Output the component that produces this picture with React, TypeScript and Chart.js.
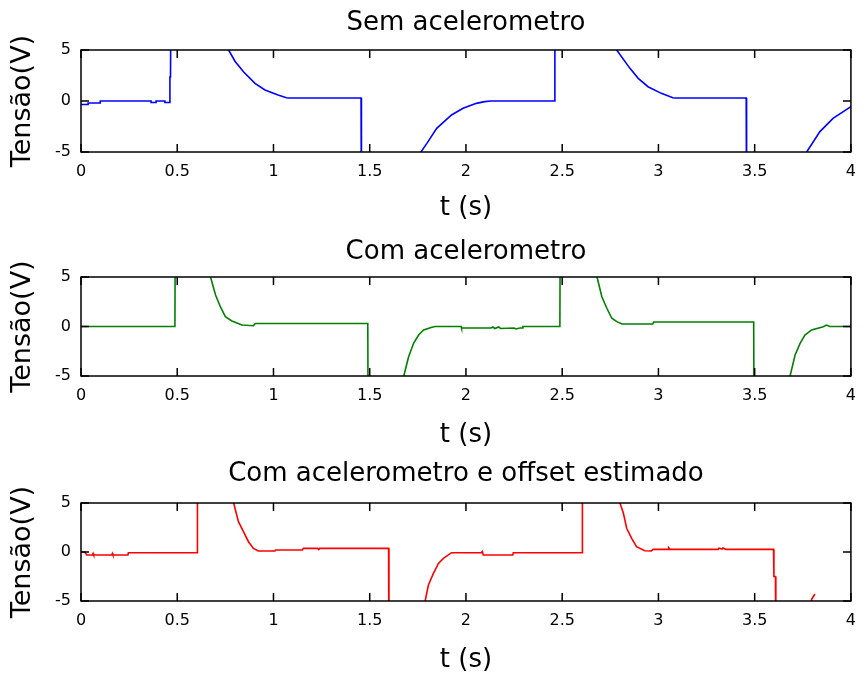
import React, { useEffect, useRef } from 'react';
import { Chart, registerables } from 'chart.js';

Chart.register(...registerables);

const FONT = "'DejaVu Sans', sans-serif";

const xTicks = [0, 0.5, 1, 1.5, 2, 2.5, 3, 3.5, 4];
const xTickLabels = ['0', '0.5', '1', '1.5', '2', '2.5', '3', '3.5', '4'];
const yTicks = [-5, 0, 5];
const yTickLabels = ['-5', '0', '5'];

const panelTitles = ['Sem acelerometro', 'Com acelerometro', 'Com acelerometro e offset estimado'];
const xAxisTitle = 't (s)';
const yAxisTitle = 'Tensão(V)';
const seriesColors = ['#0000ff', '#008000', '#ff0000'];

// Sem acelerometro (blue)
const semT = [0, 0.037, 0.037, 0.1, 0.1, 0.364, 0.364, 0.39, 0.39, 0.436, 0.436, 0.46, 0.462, 0.465, 0.468,
  0.767, 0.8, 0.844, 0.904, 0.956, 1.024, 1.067, 1.08, 1.455, 1.457,
  1.766, 1.797, 1.848, 1.925, 1.985, 2.054, 2.097, 2.13, 2.46, 2.462,
  2.783, 2.852, 2.895, 2.946, 3.015, 3.075, 3.09, 3.456, 3.458,
  3.77, 3.839, 3.907, 4.0];
const semV = [-0.35, -0.35, -0.2, -0.2, 0, 0, -0.15, -0.15, 0, 0, -0.15, -0.15, 2.35, 2.35, 12,
  5, 3.9, 2.87, 1.73, 1.08, 0.59, 0.32, 0.3, 0.3, -12,
  -5, -4.15, -2.68, -1.37, -0.72, -0.23, -0.06, 0, 0, 12,
  5, 3.2, 2.22, 1.4, 0.75, 0.32, 0.3, 0.3, -12,
  -5, -3.0, -1.7, -0.56];

// Com acelerometro (green)
const comT = [0, 0.488, 0.49,
  0.673, 0.699, 0.724, 0.75, 0.784, 0.836, 0.896, 0.905, 1.49, 1.492,
  1.677, 1.702, 1.728, 1.754, 1.78, 1.823, 1.84, 1.975, 1.977, 2.13, 2.14, 2.15, 2.17, 2.18, 2.25, 2.26, 2.28, 2.294, 2.296, 2.488, 2.49,
  2.681, 2.706, 2.732, 2.758, 2.784, 2.81, 2.97, 2.975, 3.495, 3.497,
  3.684, 3.71, 3.736, 3.761, 3.796, 3.856, 3.873, 3.89, 4.0];
const comV = [0, 0, 12,
  5, 3.18, 2.0, 0.99, 0.56, 0.15, 0.08, 0.3, 0.3, -12,
  -5, -3.05, -1.7, -0.86, -0.35, -0.08, 0, 0, -0.15, -0.15, -0.05, -0.2, -0.05, -0.2, -0.15, -0.25, -0.15, -0.15, 0, 0, 12,
  5, 3.0, 1.84, 0.83, 0.49, 0.25, 0.25, 0.45, 0.45, -12,
  -5, -2.88, -1.7, -0.86, -0.35, -0.02, 0.15, 0, 0];

// Com acelerometro e offset estimado (red)
const offT = [0, 0.02, 0.03, 0.06, 0.063, 0.066, 0.16, 0.163, 0.166, 0.244, 0.246, 0.603, 0.605,
  0.793, 0.818, 0.844, 0.87, 0.896, 0.921, 1.007, 1.01, 1.15, 1.155, 1.23, 1.235, 1.24, 1.598, 1.6,
  1.788, 1.805, 1.831, 1.857, 1.883, 1.925, 2.08, 2.085, 2.09, 2.243, 2.246, 2.603, 2.605,
  2.8, 2.818, 2.835, 2.861, 2.886, 2.929, 2.963, 2.972, 3.05, 3.053, 3.06, 3.31, 3.315, 3.33, 3.335, 3.35, 3.598, 3.6, 3.608, 3.61,
  3.79, 3.796, 3.813];
const offV = [0, 0, -0.3, -0.3, -0.15, -0.3, -0.3, -0.15, -0.3, -0.3, -0.07, -0.07, 12,
  5, 3.1, 2.07, 1.05, 0.37, 0.1, 0.1, 0.2, 0.2, 0.37, 0.37, 0.25, 0.37, 0.37, -12,
  -5, -3.37, -2.18, -1.16, -0.65, -0.07, -0.07, 0.05, -0.3, -0.3, -0.07, -0.07, 12,
  5, 3.95, 2.42, 1.4, 0.54, 0.13, 0.1, 0.27, 0.27, 0.44, 0.27, 0.27, 0.4, 0.3, 0.4, 0.27, 0.27, -2.5, -2.5, -12,
  -12, -4.83, -4.29];

const seriesT = [semT, comT, offT];
const seriesV = [semV, comV, offV];

const panels = [
  { top: 0, h: 226, areaBottom: 152, titlePadTop: 8 },
  { top: 227, h: 226, areaBottom: 149, titlePadTop: 9.4 },
  { top: 453, h: 225, areaBottom: 148, titlePadTop: 5.4 },
];

const framePlugin = {
  id: 'frame',
  afterDatasetsDraw(chart: any) {
    const { ctx, chartArea: a, scales } = chart;
    const L = 8;
    ctx.save();
    ctx.strokeStyle = '#000';
    ctx.lineWidth = 1.5;
    ctx.beginPath();
    xTicks.forEach((v) => {
      const px = scales.x.getPixelForValue(v);
      ctx.moveTo(px, a.bottom);
      ctx.lineTo(px, a.bottom - L);
      ctx.moveTo(px, a.top);
      ctx.lineTo(px, a.top + L);
    });
    yTicks.forEach((v) => {
      const py = scales.y.getPixelForValue(v);
      ctx.moveTo(a.left, py);
      ctx.lineTo(a.left + L, py);
      ctx.moveTo(a.right, py);
      ctx.lineTo(a.right - L, py);
    });
    ctx.stroke();
    ctx.strokeRect(a.left, a.top, a.right - a.left, a.bottom - a.top);
    ctx.restore();
  },
};

function Panel({ idx }: { idx: number }) {
  const ref = useRef<HTMLCanvasElement | null>(null);
  const cfg = panels[idx];
  useEffect(() => {
    const t = seriesT[idx];
    const v = seriesV[idx];
    const points = t.map((x, i) => ({ x, y: v[i] }));
    const chart = new Chart(ref.current as HTMLCanvasElement, {
      type: 'line',
      data: {
        datasets: [
          {
            data: points,
            borderColor: seriesColors[idx],
            borderWidth: 1.6,
            pointRadius: 0,
            tension: 0,
            fill: false,
          },
        ],
      },
      options: {
        animation: false,
        responsive: false,
        maintainAspectRatio: false,
        layout: { padding: { left: 0, right: 8, top: 0, bottom: 0 } },
        plugins: {
          legend: { display: false },
          tooltip: { enabled: false },
          title: { display: false },
        },
        scales: {
          x: {
            type: 'linear',
            position: 'bottom',
            min: 0,
            max: 4,
            grid: { display: false, drawTicks: false },
            border: { display: false },
            afterBuildTicks: (s: any) => {
              s.ticks = xTicks.map((value) => ({ value }));
            },
            afterFit: (s: any) => {
              s.height = cfg.h - cfg.areaBottom;
            },
            ticks: {
              autoSkip: false,
              maxRotation: 0,
              padding: 10,
              color: '#000',
              font: { family: FONT, size: 16 },
              callback: (val: any) => xTickLabels[xTicks.indexOf(Number(val))] ?? '',
            },
            title: {
              display: true,
              text: xAxisTitle,
              color: '#000',
              font: { family: FONT, size: 26, weight: 'normal' },
              padding: { top: 0, bottom: 2.4 },
            },
          },
          xTop: {
            type: 'linear',
            position: 'top',
            min: 0,
            max: 4,
            grid: { display: false, drawTicks: false },
            border: { display: false },
            ticks: { display: false },
            afterFit: (s: any) => {
              s.height = 50;
            },
            title: {
              display: true,
              text: panelTitles[idx],
              color: '#000',
              font: { family: FONT, size: 26, weight: 'normal' },
              padding: { top: cfg.titlePadTop, bottom: 0 },
            },
          },
          y: {
            type: 'linear',
            position: 'left',
            min: -5,
            max: 5,
            grid: { display: false, drawTicks: false },
            border: { display: false },
            afterBuildTicks: (s: any) => {
              s.ticks = yTicks.map((value) => ({ value }));
            },
            afterFit: (s: any) => {
              s.width = 81;
            },
            ticks: {
              padding: 10,
              color: '#000',
              font: { family: FONT, size: 16 },
              callback: (val: any) => yTickLabels[yTicks.indexOf(Number(val))] ?? '',
            },
            title: {
              display: true,
              text: yAxisTitle,
              color: '#000',
              font: { family: FONT, size: 27, weight: 'normal' },
              padding: { top: 7, bottom: 0 },
            },
          },
        },
      } as any,
      plugins: [framePlugin],
    });
    return () => chart.destroy();
  }, []);
  return (
    <canvas
      ref={ref}
      width={866}
      height={cfg.h}
      style={{ position: 'absolute', left: 0, top: cfg.top, width: 866, height: cfg.h, display: 'block' }}
    />
  );
}

export default function App() {
  return (
    <div style={{ position: 'absolute', left: 0, top: 0, width: 866, height: 678, background: '#fff' }}>
      <Panel idx={0} />
      <Panel idx={1} />
      <Panel idx={2} />
    </div>
  );
}
